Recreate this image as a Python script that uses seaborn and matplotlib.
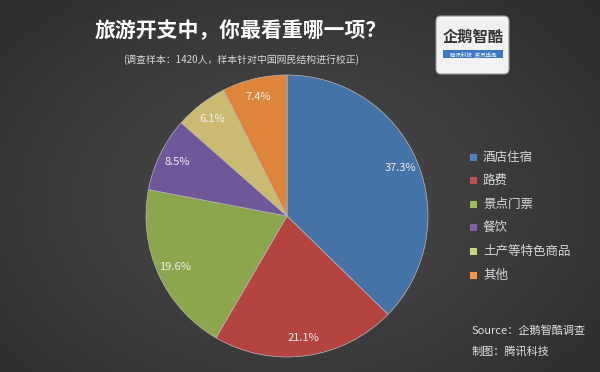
import numpy as np
import seaborn as sns
import matplotlib.pyplot as plt
from matplotlib.patches import FancyBboxPatch, Rectangle

# data
categories = ['酒店住宿', '路费', '景点门票', '餐饮', '土产等特色商品', '其他']
shares = [37.3, 21.1, 19.6, 8.5, 6.1, 7.4]
colors = ['#4572a7', '#b5433f', '#8ca64d', '#70579a', '#cbbb72', '#de843b']
legend_colors = ['#4f81bd', '#c0504d', '#9bbb59', '#8064a2', '#c3d67a', '#f79646']

title = '旅游开支中，你最看重哪一项？'
subtitle = '(调查样本：1420人，样本针对中国网民结构进行校正)'
source_lines = ['Source：企鹅智酷调查', '制图：腾讯科技']

sns.set_theme(style='dark')
plt.rcParams['font.family'] = ['Noto Sans CJK SC', 'DejaVu Sans']

W, H = 600, 372
fig = plt.figure(figsize=(6, 3.72), dpi=100)

# background with soft vignette
bg = fig.add_axes([0, 0, 1, 1])
yy, xx = np.mgrid[0:H, 0:W]
d = np.sqrt(((xx - 290) / 420) ** 2 + ((yy - 200) / 300) ** 2)
shade = np.clip(0.30 - 0.13 * d, 0.14, 0.30)
bg.imshow(np.dstack([shade, shade, shade]), extent=[0, W, H, 0], aspect='auto')
bg.set_xlim(0, W)
bg.set_ylim(H, 0)
bg.axis('off')

bg.text(241, 31, title, color='white', fontsize=15, fontweight='bold',
        ha='center', va='center')
bg.text(241, 60, subtitle, color='#d8d8d8', fontsize=7.1, ha='center', va='center')

# logo box
bg.add_patch(FancyBboxPatch((436, 16), 73, 58, boxstyle='round,pad=0,rounding_size=5',
                            facecolor='#f2f2f2', edgecolor='#999999', lw=0.8))
bg.text(473, 37, '企鹅智酷', color='#333333', fontsize=11, fontweight='bold',
        ha='center', va='center')
bg.add_patch(Rectangle((443, 50), 60, 8, facecolor='#3d78c8', edgecolor='none'))
bg.text(473, 54, '腾讯科技  资讯出品', color='white', fontsize=4, ha='center', va='center')

# legend
for i, (cat, c) in enumerate(zip(categories, legend_colors)):
    y = 157 + i * 23.6
    bg.add_patch(Rectangle((470, y - 3.5), 7, 7, facecolor=c, edgecolor='none'))
    bg.text(483, y, cat, color='#d8d8d8', fontsize=9, va='center', ha='left')

# source
bg.text(472, 331, source_lines[0], color='#e0e0e0', fontsize=8, style='italic', va='center')
bg.text(472, 351, source_lines[1], color='#e0e0e0', fontsize=8, style='italic', va='center')

# pie
cx, cy, r = 287, 216, 141
ax = fig.add_axes([(cx - r) / W, (H - cy - r) / H, 2 * r / W, 2 * r / H])
wedges, texts, autotexts = ax.pie(
    shares, colors=colors, startangle=90, counterclock=False,
    autopct='%.1f%%', pctdistance=0.87,
    wedgeprops=dict(edgecolor='#b8b8b8', linewidth=0.5),
    textprops=dict(color='#f0f0f0', fontsize=8))
ax.set_xlim(-1, 1)
ax.set_ylim(-1, 1)
ax.set_aspect('equal')
ax.axis('off')

fig.savefig('out.png', dpi=100)
